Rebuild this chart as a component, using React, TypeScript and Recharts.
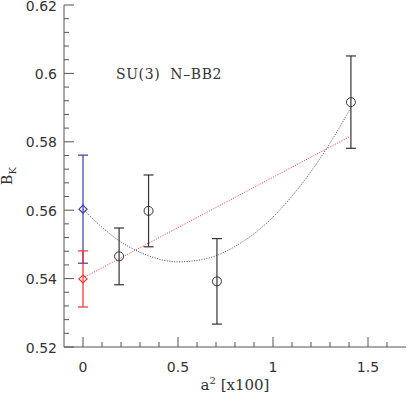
import { ErrorBar, Scatter, ScatterChart, XAxis, YAxis } from "recharts"

// lattice points, a^2 in units of 1/100
const latticeA2 = [0.19, 0.345, 0.705, 1.41]
const latticeBK = [0.5465, 0.5598, 0.5392, 0.5916]
const latticeErr = [0.0083, 0.0105, 0.0125, 0.0135]

// continuum values at a^2 = 0
const linearCont = { bk: 0.5399, err: 0.0082 }
const quadCont = { bk: 0.5603, err: 0.0158 }

// fit curves
const linearFitA2 = [0, 1.41]
const linearFitBK = [0.5402, 0.5817]
const quadFitA2 = [0, 0.1, 0.2, 0.3, 0.4, 0.5, 0.6, 0.7, 0.8, 0.9, 1.0, 1.1, 1.2, 1.3, 1.41]
const quadFitBK = [
  0.5603, 0.555, 0.5507, 0.5477, 0.5457, 0.5449, 0.5453, 0.5467, 0.5494, 0.5531,
  0.558, 0.5641, 0.5713, 0.5796, 0.59,
]

const xMajor = [0, 0.5, 1, 1.5]
const yMajor = [0.52, 0.54, 0.56, 0.58, 0.6, 0.62]
// minor ticks: every 0.1 on x, every 0.004 on y
const xMinor = Array.from({ length: 17 }, (_, i) => i / 10)
const yMinor = Array.from({ length: 26 }, (_, i) => Math.round((0.52 + i * 0.004) * 1000) / 1000)

const lattice = latticeA2.map((x, i) => ({ x, y: latticeBK[i], err: latticeErr[i] }))
const linearPoint = [{ x: 0, y: linearCont.bk, err: linearCont.err }]
const quadPoint = [{ x: 0, y: quadCont.bk, err: quadCont.err }]
const linearFit = linearFitA2.map((x, i) => ({ x, y: linearFitBK[i] }))
const quadFit = quadFitA2.map((x, i) => ({ x, y: quadFitBK[i] }))

const AXIS = "#555"
const INK = "#333"
const RED = "#f03030"
const BLUE = "#3a3aa8"
const tickFont = "'DejaVu Sans', sans-serif"
const textFont = "'DejaVu Serif', serif"

function isMajor(v: number, majors: number[]) {
  return majors.some((m) => Math.abs(m - v) < 1e-6)
}

function EdgeTick(props: any) {
  const { x, y, payload, side } = props
  const v = payload.value
  const major = side === "bottom" || side === "top" ? isMajor(v, xMajor) : isMajor(v, yMajor)
  const len = major ? 10 : 5
  if (side === "bottom") {
    return (
      <g>
        <line x1={x} y1={y} x2={x} y2={y - len} stroke={AXIS} />
        {major && (
          <text x={x} y={y + 25} textAnchor="middle" fontFamily={tickFont} fontSize={14} fill={INK}>
            {String(v)}
          </text>
        )}
      </g>
    )
  }
  if (side === "top") return <line x1={x} y1={y} x2={x} y2={y + len} stroke={AXIS} />
  if (side === "left") {
    return (
      <g>
        <line x1={x} y1={y} x2={x + len} y2={y} stroke={AXIS} />
        {major && (
          <text x={x - 7} y={y + 5.5} textAnchor="end" fontFamily={tickFont} fontSize={14} fill={INK}>
            {v.toFixed(2).replace(/0$/, "")}
          </text>
        )}
      </g>
    )
  }
  return <line x1={x} y1={y} x2={x - len} y2={y} stroke={AXIS} />
}

function Circle(props: any) {
  const { cx, cy } = props
  return <circle cx={cx} cy={cy} r={4.5} fill="none" stroke={INK} strokeWidth={1} />
}

function Diamond(props: any) {
  const { cx, cy, fill } = props
  const r = 4
  return (
    <polygon
      points={`${cx},${cy - r} ${cx + r},${cy} ${cx},${cy + r} ${cx - r},${cy}`}
      fill="none"
      stroke={fill}
      strokeWidth={1.2}
    />
  )
}

const Nothing = () => <g />

function YTitle({ viewBox }: any) {
  const cx = viewBox.x + 12
  const cy = viewBox.y + viewBox.height / 2
  return (
    <text transform={`rotate(-90 ${cx} ${cy})`} x={cx} y={cy} textAnchor="middle" fontFamily={textFont} fontSize={14} fill={INK}>
      B<tspan fontSize={10} dy={4}>K</tspan>
    </text>
  )
}

function XTitle({ viewBox }: any) {
  const cx = viewBox.x + viewBox.width / 2
  const cy = viewBox.y + 43
  return (
    <text x={cx} y={cy} textAnchor="middle" fontFamily={textFont} fontSize={15} fill={INK}>
      a<tspan fontSize={10} dy={-6}>2</tspan>
      <tspan dy={6}> [x100]</tspan>
    </text>
  )
}

export default function App() {
  return (
    <div style={{ width: 407, height: 395, background: "#fff" }}>
      <style>{"body{margin:0}"}</style>
      <ScatterChart width={407} height={395} margin={{ top: 5, right: 1, bottom: 0, left: 0 }}>
        <XAxis
          xAxisId="b"
          type="number"
          dataKey="x"
          domain={[-0.1, 1.7]}
          allowDataOverflow
          ticks={xMinor}
          interval={0}
          tickSize={0}
          tickMargin={0}
          tickLine={false}
          tick={<EdgeTick side="bottom" />}
          axisLine={{ stroke: AXIS }}
          height={48}
          label={<XTitle />}
        />
        <XAxis
          xAxisId="t"
          orientation="top"
          mirror
          type="number"
          dataKey="x"
          domain={[-0.1, 1.7]}
          allowDataOverflow
          ticks={xMinor}
          interval={0}
          tickSize={0}
          tickMargin={0}
          tickLine={false}
          tick={<EdgeTick side="top" />}
          axisLine={{ stroke: AXIS }}
          height={0}
        />
        <YAxis
          yAxisId="l"
          type="number"
          dataKey="y"
          domain={[0.52, 0.62]}
          allowDataOverflow
          ticks={yMinor}
          interval={0}
          tickSize={0}
          tickMargin={0}
          tickLine={false}
          tick={<EdgeTick side="left" />}
          axisLine={{ stroke: AXIS }}
          width={64}
          label={<YTitle />}
        />
        <YAxis
          yAxisId="r"
          orientation="right"
          mirror
          type="number"
          dataKey="y"
          domain={[0.52, 0.62]}
          allowDataOverflow
          ticks={yMinor}
          interval={0}
          tickSize={0}
          tickMargin={0}
          tickLine={false}
          tick={<EdgeTick side="right" />}
          axisLine={{ stroke: AXIS }}
          width={0}
        />
        <Scatter
          xAxisId="b"
          yAxisId="l"
          data={linearFit}
          line={{ stroke: RED, strokeWidth: 1, strokeDasharray: "1 1.5" }}
          shape={Nothing}
          isAnimationActive={false}
        />
        <Scatter
          xAxisId="b"
          yAxisId="l"
          data={quadFit}
          line={{ stroke: BLUE, strokeWidth: 1, strokeDasharray: "1 1.5" }}
          lineJointType="monotoneX"
          shape={Nothing}
          isAnimationActive={false}
        />
        <Scatter xAxisId="b" yAxisId="l" data={quadPoint} fill={BLUE} shape={Diamond} isAnimationActive={false}>
          <ErrorBar dataKey="err" direction="y" width={5} stroke={BLUE} strokeWidth={1.2} />
        </Scatter>
        <Scatter xAxisId="b" yAxisId="l" data={linearPoint} fill={RED} shape={Diamond} isAnimationActive={false}>
          <ErrorBar dataKey="err" direction="y" width={5} stroke={RED} strokeWidth={1.2} />
        </Scatter>
        <Scatter xAxisId="b" yAxisId="l" data={lattice} fill={INK} shape={Circle} isAnimationActive={false}>
          <ErrorBar dataKey="err" direction="y" width={5} stroke={INK} strokeWidth={1.2} />
        </Scatter>
        <text x={116} y={79} fontFamily={textFont} fontSize={14} letterSpacing={0.6} fill={INK}>
          {"SU(3)\u00a0\u00a0N\u2013BB2"}
        </text>
      </ScatterChart>
    </div>
  )
}
